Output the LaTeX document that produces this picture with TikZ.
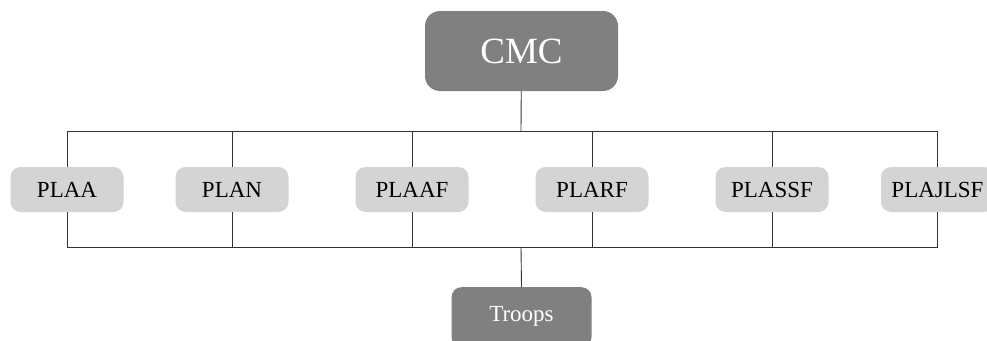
\documentclass[tikz,border=0pt]{standalone}
\usepackage{fontspec}
\setmainfont{Liberation Serif}
\begin{document}
\begin{tikzpicture}[x=1pt,y=-1pt,
  conn/.style={draw=black!80, line width=0.9pt},
  bigbox/.style={rectangle, rounded corners=15pt, fill=black!50, text=white, inner sep=0pt},
  unitbox/.style={rectangle, rounded corners=10pt, fill=black!17, text=black, inner sep=0pt,
    minimum width=113pt, minimum height=45pt, font=\fontsize{23}{26}\selectfont}]
\useasboundingbox (0,0) rectangle (987,340);
\node[bigbox, minimum width=193pt, minimum height=80pt, font=\fontsize{37}{40}\selectfont] (cmc) at (521.5,51) {CMC};
\node[unitbox] (plaa) at (67,189.5) {PLAA};
\node[unitbox] (plan) at (232,189.5) {PLAN};
\node[unitbox] (plaaf) at (412,189.5) {PLAAF};
\node[unitbox] (plarf) at (592,189.5) {PLARF};
\node[unitbox] (plassf) at (772,189.5) {PLASSF};
\node[unitbox] (plajlsf) at (937.5,189.5) {PLAJLSF};
\node[bigbox, rounded corners=10pt, minimum width=140pt, minimum height=60pt, font=\fontsize{23}{26}\selectfont, anchor=north, text depth=0pt] (troops) at (521.5,287) {\raisebox{6pt}{Troops}};
\coordinate (tb) at (521,131);
\coordinate (bb) at (521,247);
\draw[conn] (cmc) -- (tb);
\draw[conn] (plaa.north |- tb) -- (plajlsf.north |- tb);
\draw[conn] (plaa.south |- bb) -- (plajlsf.south |- bb);
\foreach \b in {plaa,plan,plaaf,plarf,plassf,plajlsf}{
  \draw[conn] (\b.north) -- (\b.north |- tb);
  \draw[conn] (\b.south) -- (\b.south |- bb);
}
\draw[conn] (bb) -- (troops.north);
\end{tikzpicture}
\end{document}
